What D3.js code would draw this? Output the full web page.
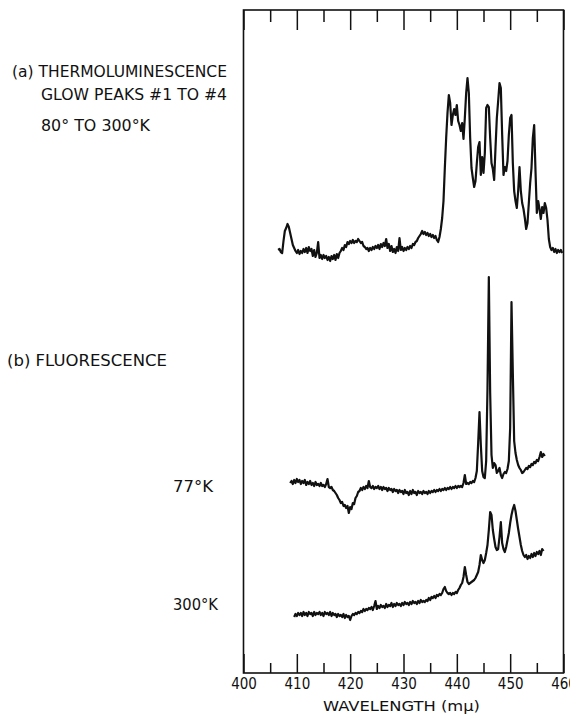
<!DOCTYPE html>
<html>
<head>
<meta charset="utf-8">
<script src="https://cdn.jsdelivr.net/npm/d3@7"></script>
<style>
  html, body { margin: 0; padding: 0; background: #fff; }
  svg text { fill: #111; }
</style>
</head>
<body>
<div id="chart"></div>
<script>
// wavelength ticks (m\u03bc)
var majorTicks = [400, 410, 420, 430, 440, 450, 460];
var minorTicks = [405, 415, 425, 435, 445, 455];

// sampling step of the traces, nm
var step = 0.25;

// (a) thermoluminescence, glow peaks #1 to #4, first sample at 406.5 nm
var thermoStart = 406.5;
var thermo = [
  3, 4, 1, 0, 12, 22,
  25, 29, 26, 20, 14, 8, 5, 2,
  0, 3, -1, 2, 0, 4, 1, 5,
  0, 6, 2, 4, -3, 3, -4, 0,
  11, -5, -2, -6, -2, -5, -3, -7,
  -4, -8, -3, -6, -2, -7, -1, -5,
  0, 2, 5, 3, 8, 6, 11, 9,
  12, 10, 13, 10, 12, 11, 14, 12,
  10, 11, 7, 6, 4, 5, 2, 5,
  3, 6, 4, 7, 5, 8, 4, 9,
  6, 10, 7, 14, 5, 9, 2, 7,
  1, 4, 0, 6, 2, 15, 3, 6,
  2, 5, 3, 6, 4, 7, 5, 9,
  8, 11, 12, 15, 17, 19, 22, 19,
  21, 18, 20, 17, 19, 16, 18, 15,
  17, 13, 11, 16, 24, 35, 52, 85,
  115, 140, 158, 150, 128, 138, 144, 138,
  148, 132, 128, 122, 130, 114, 135, 160,
  175, 160, 115, 85, 75, 66, 72, 90,
  106, 111, 78, 96, 80, 100, 145, 148,
  146, 115, 90, 84, 73, 105, 135, 152,
  170, 165, 118, 78, 86, 82, 92, 118,
  135, 138, 90, 62, 52, 45, 62, 86,
  62, 50, 44, 35, 24, 30, 50, 70,
  85, 115, 128, 82, 40, 52, 44, 34,
  46, 40, 50, 45, 33, 14, 6, 3,
  5, 1, 4, 0, 3, 1, 3, 0
];

// (b) fluorescence at 77 K, first sample at 408.75 nm
var fluor77Start = 408.75;
var fluor77 = [
  0,
  2, -1, 3, 0, 4, 1, 3, -1,
  2, 0, 3, -2, 1, -1, 2, -2,
  0, -3, 1, -2, -1, -3, 0, -3,
  -2, -4, -1, 4, -4, -5, -4, -7,
  -8, -10, -12, -15, -17, -20, -19, -23,
  -22, -25, -23, -30, -24, -26, -20, -21,
  -15, -13, -9, -8, -5, -7, -4, -6,
  -3, -5, 2, -4, -5, -3, -6, -4,
  -5, -3, -6, -4, -7, -4, -6, -5,
  -8, -5, -7, -6, -9, -6, -8, -7,
  -10, -7, -9, -8, -11, -7, -10, -9,
  -12, -8, -11, -7, -10, -9, -12, -8,
  -10, -9, -11, -8, -10, -9, -11, -8,
  -10, -8, -9, -7, -9, -7, -8, -6,
  -8, -6, -7, -5, -7, -5, -6, -4,
  -6, -4, -5, -3, -5, -3, -4, -3,
  -4, 0, 8, -1, 0, -1, 1, 0,
  2, 1, 5, 12, 40, 71, 38, 12,
  6, 5, 22, 95, 206, 90, 28, 15,
  20, 18, 10, 12, 15, 8, 5, 9,
  11, 10, 14, 22, 55, 181, 110, 42,
  30, 23, 18, 15, 13, 10, 11, 13,
  15, 14, 17, 16, 19, 18, 21, 20,
  23, 22, 26, 31, 26, 29, 27
];

// (b) fluorescence at 300 K, first sample at 409.5 nm
var fluor300Start = 409.5;
var fluor300 = [
  -2, 1,
  -1, 2, 0, 2, -1, 3, 0, 2,
  -1, 3, 1, 2, -1, 3, 0, 2,
  1, 3, 0, 2, -1, 3, 1, 2,
  0, 3, -1, 2, 0, 1, -2, 1,
  -1, 0, -2, 1, -3, 0, -2, -1,
  -5, -1, 1, 0, 2, 1, 3, 2,
  4, 3, 6, 4, 6, 5, 7, 6,
  8, 5, 9, 14, 6, 9, 7, 10,
  8, 9, 7, 11, 8, 10, 9, 12,
  8, 11, 9, 12, 10, 11, 9, 12,
  10, 13, 11, 12, 10, 13, 11, 14,
  12, 13, 11, 14, 12, 15, 13, 14,
  13, 15, 14, 17, 15, 18, 17, 19,
  17, 20, 19, 21, 20, 22, 26, 28,
  24, 22, 21, 22, 20, 22, 21, 23,
  22, 25, 27, 30, 32, 38, 48, 40,
  33, 31, 32, 33, 34, 35, 37, 40,
  43, 50, 60, 55, 52, 55, 62, 70,
  85, 103, 100, 85, 76, 68, 65, 66,
  78, 93, 72, 66, 63, 68, 75, 82,
  92, 100, 106, 110, 104, 95, 86, 78,
  70, 64, 60, 58, 60, 56, 59, 57,
  61, 58, 62, 59, 63, 61, 64, 60,
  66, 64
];

// vertical shift of each trace (same arbitrary intensity units)
var shiftThermo = 420, shift77 = 190, shift300 = 58;

var width = 570, height = 715;
var frame = { left: 243.5, right: 563.5, top: 10, bottom: 673 };

var svg = d3.select("#chart").append("svg")
    .attr("width", width)
    .attr("height", height);

var x = d3.scaleLinear().domain([400, 460]).range([frame.left, frame.right]);
var y = d3.scaleLinear().domain([0, 663]).range([frame.bottom, frame.top]);

// frame
svg.append("rect")
    .attr("x", frame.left).attr("y", frame.top)
    .attr("width", frame.right - frame.left)
    .attr("height", frame.bottom - frame.top)
    .attr("fill", "none").attr("stroke", "#111").attr("stroke-width", 1.6);

function tickStyle(g) {
    g.select(".domain").remove();
    g.selectAll(".tick line").attr("stroke", "#111").attr("stroke-width", 1.5);
}

// bottom axis, ticks pointing inward
svg.append("g")
    .attr("transform", "translate(0," + frame.bottom + ")")
    .call(d3.axisBottom(x).tickValues(majorTicks).tickSizeInner(-19).tickSizeOuter(0).tickPadding(5))
    .call(tickStyle)
    .selectAll("text")
    .attr("font-family", "'Liberation Sans Narrow', 'DejaVu Sans Condensed', 'Arial Narrow', sans-serif")
    .attr("font-size", 15)
    .attr("fill", "#111");
svg.append("g")
    .attr("transform", "translate(0," + frame.bottom + ")")
    .call(d3.axisBottom(x).tickValues(minorTicks).tickSizeInner(-10).tickSizeOuter(0).tickFormat(""))
    .call(tickStyle);

// top axis
svg.append("g")
    .attr("transform", "translate(0," + frame.top + ")")
    .call(d3.axisTop(x).tickValues(majorTicks).tickSizeInner(-20).tickSizeOuter(0).tickFormat(""))
    .call(tickStyle);
svg.append("g")
    .attr("transform", "translate(0," + frame.top + ")")
    .call(d3.axisTop(x).tickValues(minorTicks).tickSizeInner(-12).tickSizeOuter(0).tickFormat(""))
    .call(tickStyle);

// traces
function toPoints(start, values, shift) {
    return values.map(function (v, i) { return { wl: start + i * step, v: v + shift }; });
}

var line = d3.line()
    .x(function (d) { return x(d.wl); })
    .y(function (d) { return y(d.v); });

[
    toPoints(thermoStart, thermo, shiftThermo),
    toPoints(fluor77Start, fluor77, shift77),
    toPoints(fluor300Start, fluor300, shift300)
].forEach(function (pts) {
    svg.append("path")
        .datum(pts)
        .attr("d", line)
        .attr("fill", "none")
        .attr("stroke", "#111")
        .attr("stroke-width", 2.2)
        .attr("stroke-linejoin", "round");
});

// labels
var labels = [
    { t: "(a) THERMOLUMINESCENCE", x: 12, y: 77, w: 215 },
    { t: "GLOW PEAKS #1 TO #4", x: 41, y: 100, w: 186 },
    { t: "80\u00b0 TO 300\u00b0K", x: 41, y: 131, w: 109 },
    { t: "(b) FLUORESCENCE", x: 7, y: 366, w: 160 },
    { t: "77\u00b0K", x: 173, y: 492, w: 40 },
    { t: "300\u00b0K", x: 173, y: 610, w: 45 }
];
svg.selectAll("text.lbl")
    .data(labels)
    .enter().append("text")
    .attr("class", "lbl")
    .attr("x", function (d) { return d.x; })
    .attr("y", function (d) { return d.y; })
    .attr("textLength", function (d) { return d.w; })
    .attr("lengthAdjust", "spacingAndGlyphs")
    .attr("font-family", "'DejaVu Sans', sans-serif")
    .attr("font-size", 15)
    .text(function (d) { return d.t; });

// axis title
svg.append("text")
    .attr("x", 323).attr("y", 711)
    .attr("textLength", 157)
    .attr("lengthAdjust", "spacingAndGlyphs")
    .attr("font-family", "'DejaVu Sans', sans-serif")
    .attr("font-size", 14)
    .text("WAVELENGTH (m\u03bc)");
</script>
</body>
</html>
